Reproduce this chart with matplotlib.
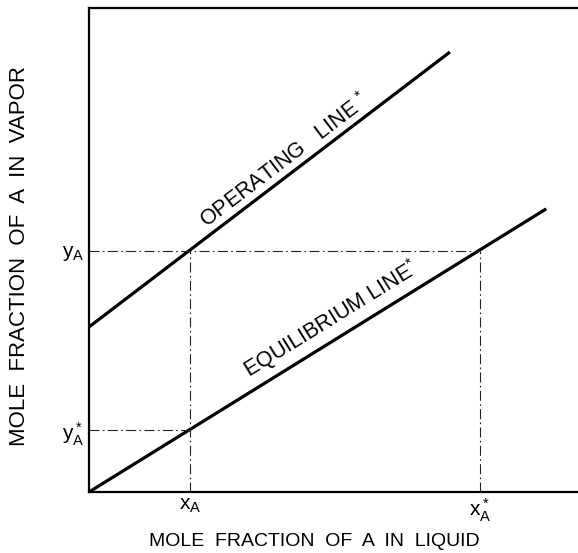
import matplotlib
matplotlib.use("Agg")
import matplotlib.pyplot as plt
import numpy as np

plt.rcParams['font.family'] = ['Liberation Sans', 'DejaVu Sans']
plt.rcParams['mathtext.fontset'] = 'custom'
plt.rcParams['mathtext.rm'] = 'Liberation Sans'

# line end points (fraction of axis range)
op_x = [0.0, 0.738]
op_y = [0.341, 0.909]
eq_x = [0.0, 0.935]
eq_y = [0.0, 0.585]

# construction points
xA, xA_star = 0.207, 0.800
yA, yA_star = 0.498, 0.128

xtick_labels = [r'$\mathregular{x_A}$', r'$\mathregular{x_A^*}$']
ytick_labels = [r'$\mathregular{y_A^*}$', r'$\mathregular{y_A}$']

fig = plt.figure(figsize=(5.78, 5.53), dpi=100)
ax = fig.add_axes([89 / 578, 61 / 553, 489 / 578, 484 / 553])
ax.set_xlim(0, 1)
ax.set_ylim(0, 1)

ax.plot(op_x, op_y, color='black', lw=2.3, solid_capstyle='butt')
ax.plot(eq_x, eq_y, color='black', lw=2.3, solid_capstyle='butt')

dd = (0, (9, 3, 1.5, 3))
kw = dict(color='#222222', lw=0.8, linestyle=dd)
ax.plot([0, xA_star], [yA, yA], **kw)
ax.plot([0, xA], [yA_star, yA_star], **kw)
ax.plot([xA, xA], [0, yA], **kw)
ax.plot([xA_star, xA_star], [0, yA], **kw)

for s in ['left', 'bottom', 'top']:
    ax.spines[s].set_linewidth(1.6)
ax.spines['right'].set_visible(False)

ax.set_xticks([xA, xA_star])
ax.set_xticklabels(xtick_labels, fontsize=15)
ax.set_yticks([yA_star, yA])
ax.set_yticklabels(ytick_labels, fontsize=15)
ax.tick_params(length=0, pad=3)


def angle_of(xs, ys):
    p = ax.transData.transform(np.column_stack([xs, ys]))
    return np.degrees(np.arctan2(p[1, 1] - p[0, 1], p[1, 0] - p[0, 0]))


a_op = angle_of(op_x, op_y)
a_eq = angle_of(eq_x, eq_y)

ax.text(0.247, 0.536, r'OPERATING   LINE $^{*}$', rotation=a_op, rotation_mode='anchor',
        ha='left', va='bottom', fontsize=15.5)
ax.text(0.336, 0.224, r'EQUILIBRIUM LINE$^{*}$', rotation=a_eq, rotation_mode='anchor',
        ha='left', va='bottom', fontsize=15.5)

fig.text(314 / 578, 1 - 541 / 553, 'MOLE  FRACTION  OF  A  IN  LIQUID', ha='center', va='center',
         fontsize=14)
fig.text(20 / 578, 1 - 256 / 553, 'MOLE  FRACTION  OF  A  IN  VAPOR', ha='center', va='center',
         rotation=90, fontsize=16)

fig.savefig('out.png', dpi=100)
